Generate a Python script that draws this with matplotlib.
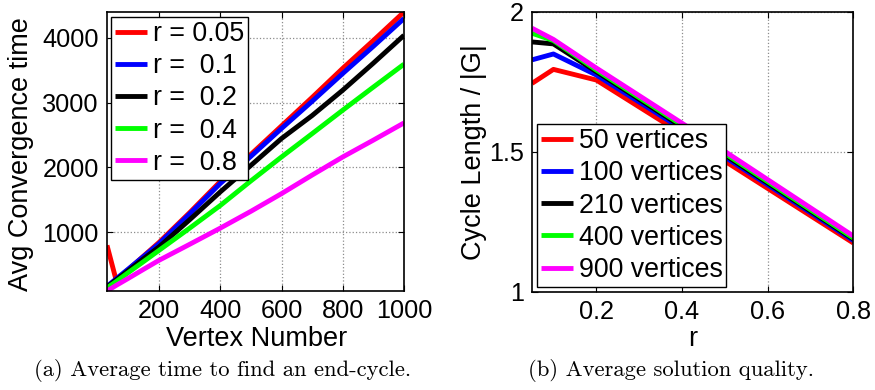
import matplotlib

matplotlib.use("Agg")
import matplotlib.pyplot as plt

plt.rcParams["font.family"] = ["Liberation Sans", "DejaVu Sans"]

# (a) average convergence time vs number of vertices
vertex_number = [30, 60, 100, 150, 200, 300, 400, 500, 600, 700, 800, 900, 1000]
conv_r005 = [794, 253, 421, 631, 840, 1300, 1780, 2200, 2640, 3080, 3530, 3960, 4400]
conv_r01 = [160, 277, 430, 625, 820, 1280, 1750, 2170, 2600, 3020, 3450, 3870, 4300]
conv_r02 = [150, 260, 405, 590, 770, 1190, 1620, 2030, 2445, 2800, 3192, 3610, 4040]
conv_r04 = [135, 235, 375, 545, 717, 1060, 1410, 1790, 2160, 2520, 2883, 3240, 3594]
conv_r08 = [88, 175, 285, 425, 563, 810, 1060, 1320, 1593, 1880, 2160, 2420, 2686]
conv_labels = ["r = 0.05", "r =  0.1", "r =  0.2", "r =  0.4", "r =  0.8"]

# (b) cycle length / |G| vs r
r_values = [0.05, 0.1, 0.2, 0.4, 0.8]
qual_50 = [1.745, 1.795, 1.757, 1.565, 1.175]
qual_100 = [1.829, 1.850, 1.775, 1.582, 1.184]
qual_210 = [1.893, 1.886, 1.787, 1.590, 1.189]
qual_400 = [1.924, 1.898, 1.793, 1.596, 1.193]
qual_900 = [1.942, 1.902, 1.800, 1.603, 1.200]
qual_labels = ["50 vertices", "100 vertices", "210 vertices", "400 vertices", "900 vertices"]

COLORS = ["#ff0000", "#0000ff", "#000000", "#00ff00", "#ff00ff"]
TICK_FS = 18.2
LABEL_FS = 19.5
LEG_FS = 19.3
LW = 3.5


def style_axes(ax):
    ax.tick_params(direction="in", length=4, width=0.8, top=True, right=True,
                   labelsize=TICK_FS, pad=6)
    ax.grid(True, linestyle=":", color="0.55", linewidth=0.9)
    for sp in ax.spines.values():
        sp.set_linewidth(1.2)


def add_legend(ax, loc, anchor):
    leg = ax.legend(loc=loc, bbox_to_anchor=anchor, borderaxespad=0,
                    fontsize=LEG_FS, handlelength=1.2, handletextpad=0.2,
                    labelspacing=0.23, borderpad=0.15, fancybox=False,
                    edgecolor="black", framealpha=1)
    leg.get_frame().set_linewidth(1.0)
    return leg


fig = plt.figure(figsize=(8.75, 3.9), dpi=100)

# ---- panel (a)
ax1 = fig.add_axes([0.1223, 0.2538, 0.3394, 0.7154])
conv_series = [conv_r005, conv_r01, conv_r02, conv_r04, conv_r08]
for ys, c, lab in zip(conv_series, COLORS, conv_labels):
    ax1.plot(vertex_number, ys, color=c, lw=LW, label=lab, solid_capstyle="butt")
ax1.set_xlim(vertex_number[0], vertex_number[-1])
ax1.set_ylim(min(min(s) for s in conv_series), max(max(s) for s in conv_series))
ax1.set_xticks([200, 400, 600, 800, 1000])
ax1.set_yticks([1000, 2000, 3000, 4000])
style_axes(ax1)
ax1.set_xlabel("Vertex Number", fontsize=LABEL_FS)
ax1.set_ylabel("Avg Convergence time", fontsize=LABEL_FS)
ax1.xaxis.set_label_coords(0.505, -0.125)
ax1.yaxis.set_label_coords(-0.245, 0.49)
add_legend(ax1, "upper left", (0.0135, 0.982))

# ---- panel (b)
ax2 = fig.add_axes([0.608, 0.2513, 0.3672, 0.718])
qual_series = [qual_50, qual_100, qual_210, qual_400, qual_900]
for ys, c, lab in zip(qual_series, COLORS, qual_labels):
    ax2.plot(r_values, ys, color=c, lw=LW, label=lab, solid_capstyle="butt")
ax2.set_xlim(r_values[0], r_values[-1])
ax2.set_ylim(1, 2)
ax2.set_xticks([0.2, 0.4, 0.6, 0.8])
ax2.set_yticks([1, 1.5, 2])
ax2.set_yticklabels(["1", "1.5", "2"])
style_axes(ax2)
ax2.set_xlabel("r", fontsize=LABEL_FS)
ax2.set_ylabel("Cycle Length / |G|", fontsize=LABEL_FS)
ax2.xaxis.set_label_coords(0.50, -0.12)
ax2.yaxis.set_label_coords(-0.14, 0.50)
add_legend(ax2, "lower left", (0.0156, 0.018))

# captions
fig.text(0.254, 0.051, "(a) Average time to find an end-cycle.", ha="center", va="center",
         fontsize=16.3, family="cmr10")
fig.text(0.767, 0.051, "(b) Average solution quality.", ha="center", va="center",
         fontsize=16.3, family="cmr10")

fig.savefig("out.png", dpi=100)
